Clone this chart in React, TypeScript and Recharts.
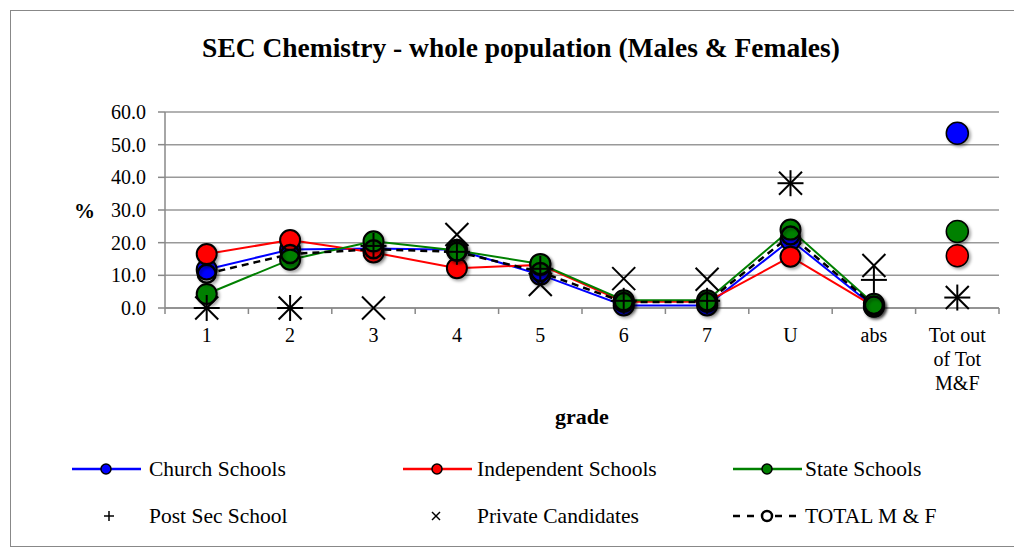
import { CartesianGrid, Line, LineChart, XAxis, YAxis } from "recharts";

const grades = ["1", "2", "3", "4", "5", "6", "7", "U", "abs", "Tot out of Tot M&F"];
const church = [11.8, 17.9, 18.2, 17.8, 10.2, 0.8, 0.8, 20.8, 0.4, null];
const independent = [16.5, 20.8, 17.0, 12.2, 13.2, 1.9, 1.9, 15.7, 0.5, null];
const state = [4.3, 14.8, 20.4, 17.6, 13.5, 2.4, 2.4, 24.0, 1.3, null];
const postSec = [0, 0, 19.0, 17.2, 12.0, 2.2, 2.2, 38.2, 8.6, 3.2];
const privateCand = [0, 0, 0, 22.5, 7.2, 9.0, 8.8, 38.2, 13.0, 3.2];
const total = [10.5, 16.5, 18.0, 17.2, 11.0, 1.8, 1.8, 22.2, 0.8, null];
const churchTot = 53.5;
const independentTot = 16.0;
const stateTot = 23.4;

const data = grades.map((grade, i) => ({
  grade,
  church: church[i],
  independent: independent[i],
  state: state[i],
  postSec: postSec[i],
  privateCand: privateCand[i],
  total: total[i],
  churchTot: i === grades.length - 1 ? churchTot : null,
  independentTot: i === grades.length - 1 ? independentTot : null,
  stateTot: i === grades.length - 1 ? stateTot : null,
}));

const yTicks = [0, 10, 20, 30, 40, 50, 60];
const FONT = '"Liberation Serif", "DejaVu Serif", serif';
const W = 1004;
const H = 535;
const M = { top: 101, right: 16, left: 0, bottom: 178 };
const Y_AXIS_W = 154;
const BAND = (W - M.left - M.right - Y_AXIS_W) / grades.length;

function circleDot(fill: string, r: number, sw: number) {
  return (p: any) => {
    if (p.value == null || p.cy == null) return <g key={`e${p.index}`} />;
    return (
      <circle key={`c${p.index}`} cx={p.cx} cy={p.cy} r={r} fill={fill} stroke="#000" strokeWidth={sw} filter="url(#shadow)" />
    );
  };
}

function plusDot(p: any) {
  if (p.value == null || p.cy == null) return <g key={`e${p.index}`} />;
  const s = 13;
  return (
    <g key={`p${p.index}`} stroke="#000" strokeWidth={2}>
      <line x1={p.cx - s} x2={p.cx + s} y1={p.cy} y2={p.cy} />
      <line x1={p.cx} x2={p.cx} y1={p.cy - s} y2={p.cy + s} />
    </g>
  );
}

function crossDot(p: any) {
  if (p.value == null || p.cy == null) return <g key={`e${p.index}`} />;
  const s = 11.5;
  return (
    <g key={`x${p.index}`} stroke="#000" strokeWidth={2}>
      <line x1={p.cx - s} x2={p.cx + s} y1={p.cy - s} y2={p.cy + s} />
      <line x1={p.cx - s} x2={p.cx + s} y1={p.cy + s} y2={p.cy - s} />
    </g>
  );
}

function GradeTick(props: any) {
  const { x, y, payload, index } = props;
  const lines = payload.value === "Tot out of Tot M&F" ? ["Tot out", "of Tot", "M&F"] : [payload.value];
  return (
    <g>
      <line x1={x - BAND / 2} x2={x - BAND / 2} y1={y} y2={y + 6} stroke="#888" strokeWidth={1.5} />
      {index === grades.length - 1 && (
        <line x1={x + BAND / 2} x2={x + BAND / 2} y1={y} y2={y + 6} stroke="#888" strokeWidth={1.5} />
      )}
      <text x={x} y={y + 34} textAnchor="middle" fontFamily={FONT} fontSize={20} fill="#000">
        {lines.map((t, i) => (
          <tspan key={t} x={x} dy={i === 0 ? 0 : 24}>
            {t}
          </tspan>
        ))}
      </text>
    </g>
  );
}

const legendRow1 = [
  { name: "Church Schools", color: "#0000ff", x: 61, text: 138 },
  { name: "Independent Schools", color: "#ff0000", x: 392, text: 466 },
  { name: "State Schools", color: "#008000", x: 722, text: 794 },
];

function Legend() {
  return (
    <svg width={W} height={H} style={{ position: "absolute", left: 0, top: 0, pointerEvents: "none" }}>
      <g fontFamily={FONT} fontSize={21.5} fill="#000">
        {legendRow1.map((d) => (
          <g key={d.name}>
            <line x1={d.x} x2={d.x + 69} y1={458} y2={458} stroke={d.color} strokeWidth={2.5} />
            <circle cx={d.x + 34} cy={458} r={5} fill={d.color} stroke="#000" strokeWidth={1.5} />
            <text x={d.text} y={465}>{d.name}</text>
          </g>
        ))}
        <g stroke="#000" strokeWidth={1.5}>
          <line x1={93} x2={103} y1={505} y2={505} />
          <line x1={98} x2={98} y1={500} y2={510} />
          <line x1={421} x2={429} y1={501} y2={509} />
          <line x1={421} x2={429} y1={509} y2={501} />
        </g>
        <text x={138} y={512}>Post Sec School</text>
        <text x={466} y={512}>Private Candidates</text>
        <line x1={722} x2={791} y1={505} y2={505} stroke="#000" strokeWidth={2.5} strokeDasharray="7 7" />
        <circle cx={756} cy={505} r={5} fill="#fff" stroke="#000" strokeWidth={2.5} />
        <text x={794} y={512}>TOTAL M &amp; F</text>
      </g>
    </svg>
  );
}

export default function App() {
  return (
    <div
      style={{
        position: "relative",
        width: W,
        height: H,
        border: "1px solid #888",
        marginLeft: 2,
        marginTop: 2,
        background: "#fff",
        fontFamily: FONT,
      }}
    >
      <LineChart width={W} height={H} data={data} margin={M}>
        <defs>
          <filter id="shadow" x="-50%" y="-50%" width="200%" height="200%">
            <feDropShadow dx={2} dy={2} stdDeviation={1.5} floodColor="#000" floodOpacity={0.35} />
          </filter>
        </defs>
        <CartesianGrid vertical={false} stroke="#999" strokeWidth={1.5} />
        <XAxis
          dataKey="grade"
          scale="band"
          interval={0}
          height={60}
          tickLine={false}
          tickSize={0}
          tickMargin={0}
          stroke="#888"
          strokeWidth={1.5}
          tick={<GradeTick />}
        />
        <YAxis
          domain={[0, 60]}
          ticks={yTicks}
          width={Y_AXIS_W}
          tickSize={7}
          tickMargin={12}
          stroke="#888"
          strokeWidth={1.5}
          tickFormatter={(v: number) => v.toFixed(1)}
          tick={{ fill: "#000", fontSize: 20, fontFamily: FONT }}
        />
        <Line dataKey="church" stroke="#0000ff" strokeWidth={2} dot={circleDot("#0000ff", 10, 2)} isAnimationActive={false} />
        <Line dataKey="independent" stroke="#ff0000" strokeWidth={2} dot={circleDot("#ff0000", 10, 2)} isAnimationActive={false} />
        <Line dataKey="state" stroke="#008000" strokeWidth={2} dot={circleDot("#008000", 10, 2)} isAnimationActive={false} />
        <Line dataKey="churchTot" stroke="none" dot={circleDot("#0000ff", 11, 1.5)} isAnimationActive={false} />
        <Line dataKey="independentTot" stroke="none" dot={circleDot("#ff0000", 11, 1.5)} isAnimationActive={false} />
        <Line dataKey="stateTot" stroke="none" dot={circleDot("#008000", 11, 1.5)} isAnimationActive={false} />
        <Line dataKey="postSec" stroke="none" dot={plusDot} isAnimationActive={false} />
        <Line dataKey="privateCand" stroke="none" dot={crossDot} isAnimationActive={false} />
        <Line dataKey="total" stroke="#000" strokeWidth={2.5} strokeDasharray="7 5" dot={circleDot("none", 9, 2.5)} isAnimationActive={false} />
      </LineChart>
      <div style={{ position: "absolute", left: 8, width: W, top: 21, textAlign: "center", fontSize: 27.5, fontWeight: "bold" }}>
        SEC Chemistry - whole population (Males &amp; Females)
      </div>
      <div style={{ position: "absolute", left: 63, top: 188, fontSize: 21, fontWeight: "bold" }}>%</div>
      <div style={{ position: "absolute", left: 154, width: 834, top: 393, textAlign: "center", fontSize: 22, fontWeight: "bold" }}>
        grade
      </div>
      <Legend />
    </div>
  );
}
